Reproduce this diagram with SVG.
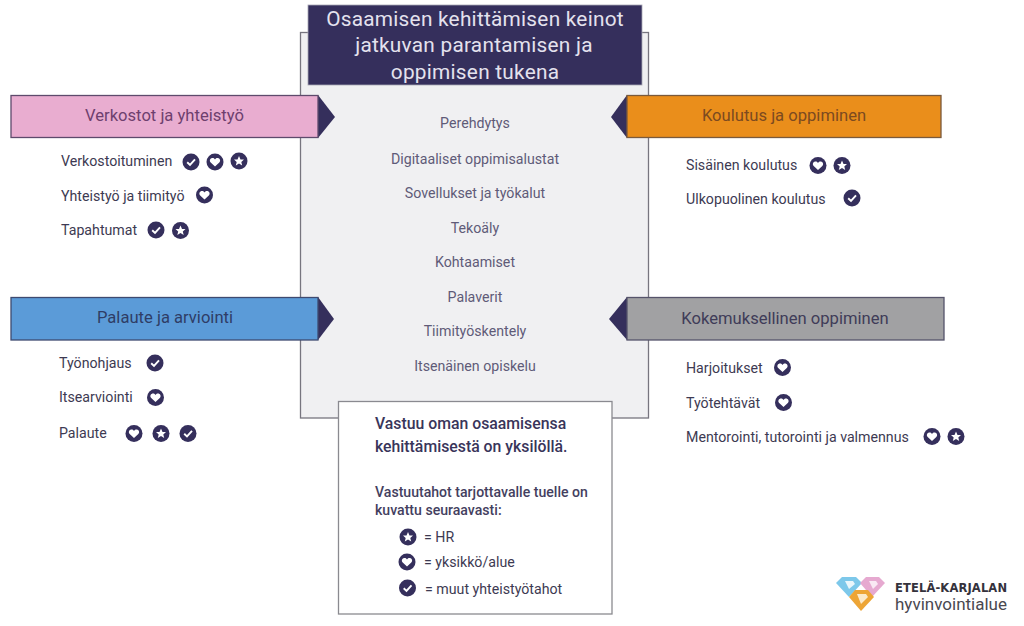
<svg xmlns="http://www.w3.org/2000/svg" width="1024" height="626" viewBox="0 0 1024 626">
<style>
text{font-family:Roboto,"Liberation Sans",sans-serif}
.hd{font-size:16.6px;text-anchor:middle}
.ti{font-size:20.8px;fill:#e4e2ee;text-anchor:middle;letter-spacing:.25px}
.mi{font-size:14.2px;fill:#5f5b78;text-anchor:middle}
.it{font-size:14.2px;fill:#3d3a52}
.b1{font-size:15.8px;font-weight:500;fill:#39355a}
.b2{font-size:14.1px;font-weight:500;fill:#443f60}
.lg{font-size:14.2px;fill:#3d3a52}
.tri{fill:#352f5c}
</style>
<defs>
<g id="star"><circle r="8.5" fill="#352f5c"/><polygon fill="#fff" points="0,-5 1.5,-1.6 5,-1.4 2.3,.9 3.2,4.4 0,2.5 -3.2,4.4 -2.3,.9 -5,-1.4 -1.5,-1.6"/></g>
<g id="heart"><circle r="8.500" fill="#352f5c"/><path fill="#fff" d="M0,4.6 L-4.3,.6 C-6.2,-1.6 -4.6,-4 -2.4,-4 C-1.2,-4 -.4,-3.3 0,-2.5 C.4,-3.3 1.2,-4 2.4,-4 C4.6,-4 6.2,-1.6 4.3,.6 Z"/></g>
<g id="check"><circle r="8.500" fill="#352f5c"/><path fill="none" stroke="#fff" stroke-width="1.9" d="M-3.8,.3 L-1,3 L4,-2.6"/></g>
</defs>

<g id="main-panel"><rect x="300.500" y="32.500" width="348" height="385.500" fill="#f0f0f2" stroke="#77757f" stroke-width="1.3"/></g>
<g id="title"><rect x="308" y="5" width="334" height="80" fill="#352f5c" stroke="#a9a7b5" stroke-width=".8"/>
<text class="ti" x="475" y="26">Osaamisen kehittämisen keinot</text>
<text class="ti" x="474" y="52">jatkuvan parantamisen ja</text>
<text class="ti" x="475" y="79">oppimisen tukena</text></g>

<g id="center-items">
<text class="mi" x="475" y="128">Perehdytys</text>
<text class="mi" x="475" y="164">Digitaaliset oppimisalustat</text>
<text class="mi" x="475" y="198">Sovellukset ja työkalut</text>
<text class="mi" x="475" y="233">Tekoäly</text>
<text class="mi" x="475" y="267">Kohtaamiset</text>
<text class="mi" x="475" y="302">Palaverit</text>
<text class="mi" x="475" y="336">Tiimityöskentely</text>
<text class="mi" x="475" y="371">Itsenäinen opiskelu</text>
</g>

<g id="verkostot">
<polygon class="tri" points="318,95 335,117 318,138"/>
<rect x="11" y="95.500" width="307" height="42" fill="#e9add0" stroke="#5e4a6c" stroke-width="1.3"/>
<text class="hd" x="164.500" y="120.500" fill="#6e3f6e">Verkostot ja yhteistyö</text>
<text class="it" x="61" y="166">Verkostoituminen</text><use href="#check" x="191" y="162"/><use href="#heart" x="215" y="162"/><use href="#star" x="239" y="161"/>
<text class="it" x="61" y="201">Yhteistyö ja tiimityö</text><use href="#heart" x="204.500" y="195"/>
<text class="it" x="61" y="235">Tapahtumat</text><use href="#check" x="156" y="230"/><use href="#star" x="180.500" y="230.500"/>
</g>

<g id="palaute">
<polygon class="tri" points="318,297 334,319 318,340"/>
<rect x="11" y="297.500" width="307" height="42.500" fill="#5b9bd8" stroke="#3e4a70" stroke-width="1.3"/>
<text class="hd" x="165" y="323" fill="#2f3d66">Palaute ja arviointi</text>
<text class="it" x="59" y="368">Työnohjaus</text><use href="#check" x="155" y="363"/>
<text class="it" x="59" y="402">Itsearviointi</text><use href="#heart" x="155.500" y="397.500"/>
<text class="it" x="59" y="438">Palaute</text><use href="#heart" x="134" y="433.500"/><use href="#star" x="161" y="433.500"/><use href="#check" x="188" y="433.500"/>
</g>

<g id="koulutus">
<polygon class="tri" points="627,95 611,117 627,138"/>
<rect x="627" y="95.500" width="314" height="42" fill="#ea8e1b" stroke="#7a5a3c" stroke-width="1.3"/>
<text class="hd" x="784" y="120.500" fill="#7c4a20">Koulutus ja oppiminen</text>
<text class="it" x="686" y="170">Sisäinen koulutus</text><use href="#heart" x="818" y="165.500"/><use href="#star" x="842" y="165.500"/>
<text class="it" x="686" y="204">Ulkopuolinen koulutus</text><use href="#check" x="852" y="198"/>
</g>

<g id="kokemus">
<polygon class="tri" points="627,297 609,319 627,340"/>
<rect x="627" y="297.500" width="317" height="42.500" fill="#a1a1a3" stroke="#55536a" stroke-width="1.3"/>
<text class="hd" x="785" y="323.500" fill="#3f3c58">Kokemuksellinen oppiminen</text>
<text class="it" x="686" y="373">Harjoitukset</text><use href="#heart" x="782.500" y="367.500"/>
<text class="it" x="686" y="408">Työtehtävät</text><use href="#heart" x="783.500" y="402.500"/>
<text class="it" x="686" y="442">Mentorointi, tutorointi ja valmennus</text><use href="#heart" x="932" y="436.500"/><use href="#star" x="956" y="436.500"/>
</g>

<g id="legend">
<rect x="338.500" y="401.500" width="273.500" height="212.500" fill="#fff" stroke="#8a8a90" stroke-width="1.3"/>
<text class="b1" x="375" y="429">Vastuu oman osaamisensa</text>
<text class="b1" x="375" y="452">kehittämisestä on yksilöllä.</text>
<text class="b2" x="375" y="497">Vastuutahot tarjottavalle tuelle on</text>
<text class="b2" x="375" y="515">kuvattu seuraavasti:</text>
<use href="#star" x="408" y="537"/><text class="lg" x="424" y="542">= HR</text>
<use href="#heart" x="407" y="562"/><text class="lg" x="424" y="567">= yksikkö/alue</text>
<use href="#check" x="407.500" y="588"/><text class="lg" x="425" y="594">= muut yhteistyötahot</text>
</g>

<g id="logo">
<polygon points="836,583 842,577 856,577 862,583 849,597" fill="#7dc8ea"/><polygon points="845,581 853,581 855,584 849,589" fill="#eaf6fb"/>
<polygon points="860,583 866,577 879,577 885,583 872,597" fill="#e6a9d0"/><polygon points="869,581 876,581 878,584 873,589" fill="#f9e8f3"/>
<polygon points="849,597 855,590 868,590 874,597 861,611" fill="#eda536"/><polygon points="857,594 866,594 868,597 861,604" fill="#fbeacb"/>
<text x="895" y="592" font-size="11.500" font-weight="700" fill="#34323c" style="font-family:'DejaVu Sans',sans-serif" textLength="112">ETELÄ-KARJALAN</text>
<text x="895" y="610" font-size="17" fill="#4a4850" textLength="112" lengthAdjust="spacingAndGlyphs">hyvinvointialue</text>
</g>
</svg>
